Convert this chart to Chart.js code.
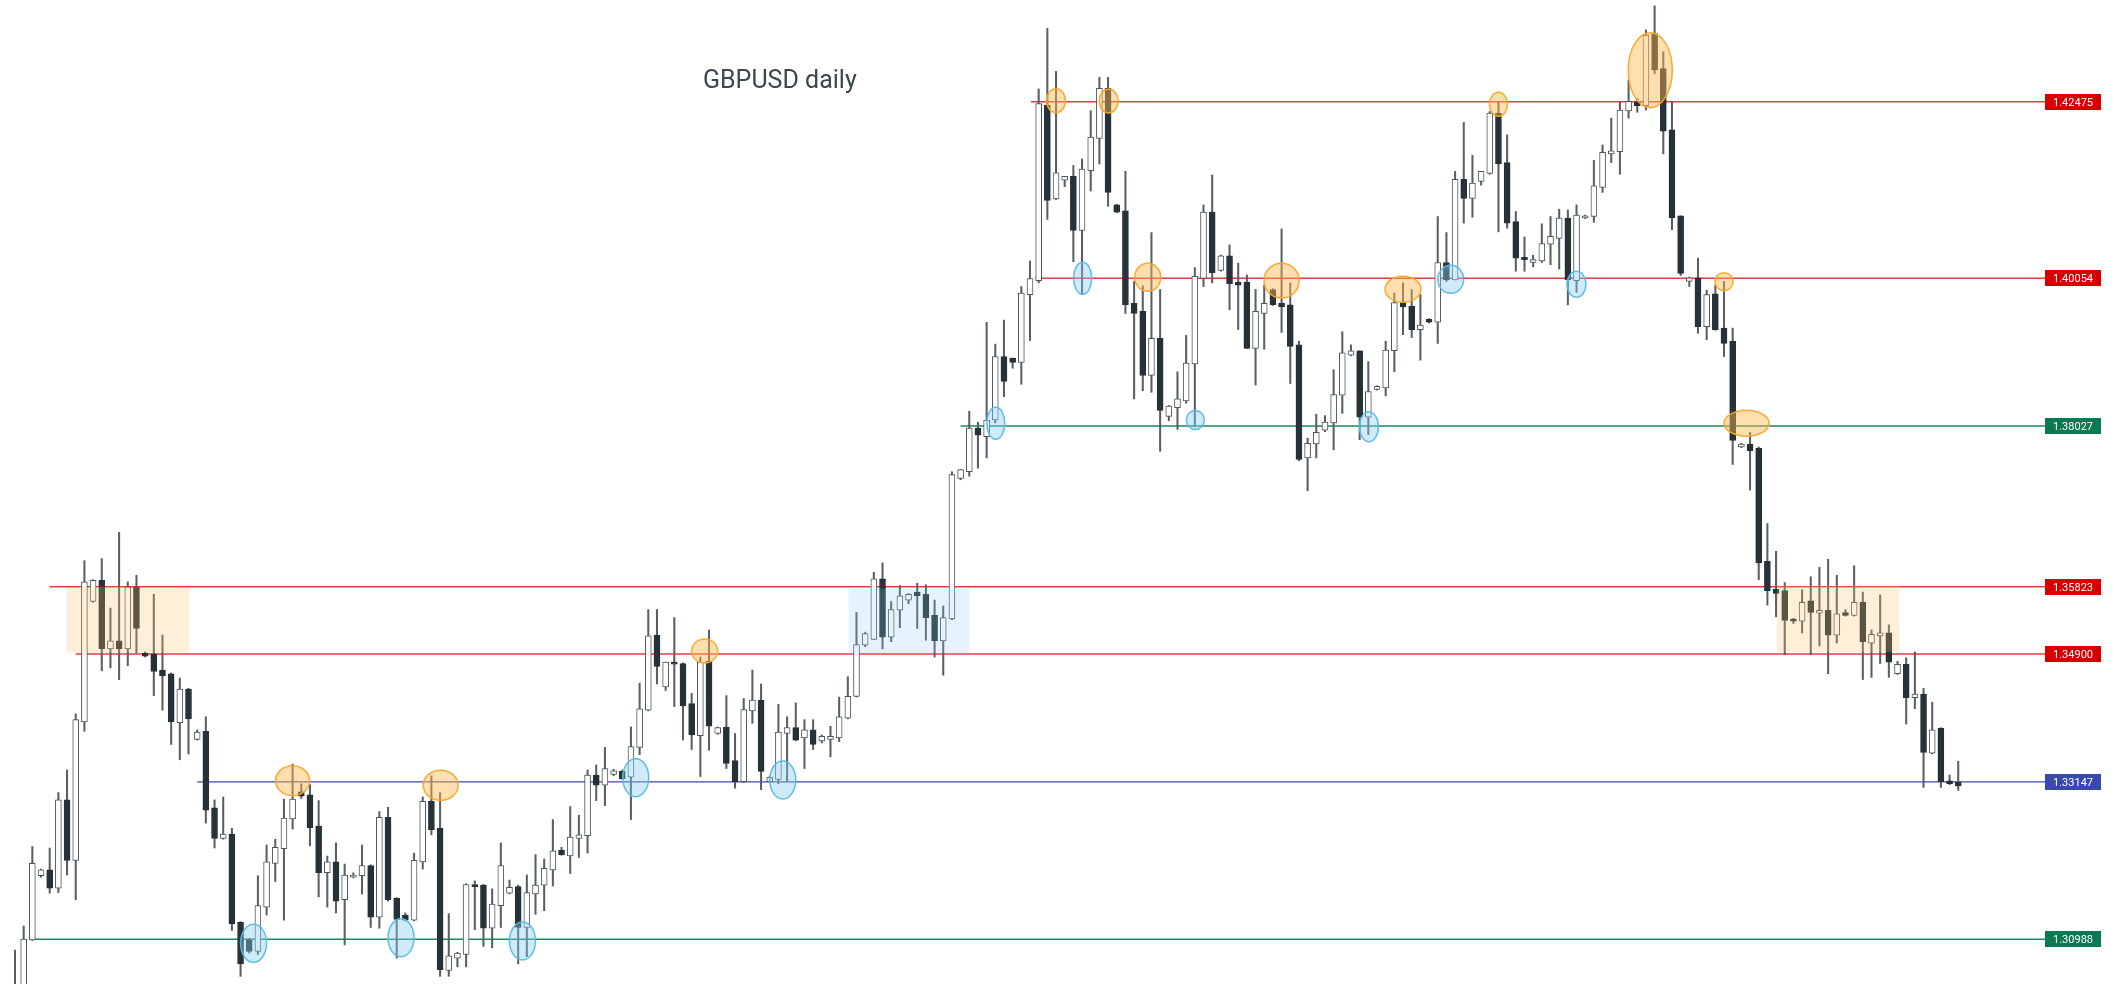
<!DOCTYPE html>
<html>
<head>
<meta charset="utf-8">
<title>GBPUSD daily</title>
<script src="https://cdn.jsdelivr.net/npm/chart.js@4"></script>
<style>
    html, body { margin: 0; padding: 0; background: #ffffff; }
    #wrap { width: 2117px; height: 984px; }
</style>
</head>
<body>
<div id="wrap"><canvas id="chart" width="2117" height="984"></canvas></div>
<script>
// daily candles, oldest first
const opens = [
    1.3010, 1.3020, 1.3098, 1.3186, 1.3194, 1.3169, 1.3290, 1.3207, 1.3397, 1.3562,
    1.3591, 1.3497, 1.3508, 1.3497, 1.3582, 1.3491, 1.3490, 1.3468, 1.3463, 1.3396,
    1.3442, 1.3373, 1.3384, 1.3279, 1.3237, 1.3243, 1.3122, 1.3098, 1.3082, 1.3143,
    1.3203, 1.3223, 1.3264, 1.3301, 1.3297, 1.3254, 1.3190, 1.3205, 1.3153, 1.3184,
    1.3186, 1.3200, 1.3129, 1.3266, 1.3155, 1.3132, 1.3125, 1.3205, 1.3288, 1.3251,
    1.3056, 1.3073, 1.3078, 1.3174, 1.3173, 1.3114, 1.3145, 1.3162, 1.3171, 1.3115,
    1.3161, 1.3173, 1.3194, 1.3221, 1.3213, 1.3237, 1.3241, 1.3324, 1.3310, 1.3325,
    1.3329, 1.3321, 1.3362, 1.3413, 1.3516, 1.3445, 1.3479, 1.3477, 1.3422, 1.3378,
    1.3480, 1.3381, 1.3390, 1.3344, 1.3315, 1.3412, 1.3427, 1.3315, 1.3318, 1.3381,
    1.3389, 1.3375, 1.3386, 1.3371, 1.3373, 1.3375, 1.3402, 1.3432, 1.3502, 1.3510,
    1.3593, 1.3513, 1.3550, 1.3564, 1.3575, 1.3572, 1.3543, 1.3508, 1.3538, 1.3731,
    1.3740, 1.3800, 1.3788, 1.3811, 1.3898, 1.3896, 1.3890, 1.3983, 1.4002, 1.4243,
    1.4114, 1.4140, 1.4145, 1.4071, 1.4153, 1.4197, 1.4266, 1.4106, 1.4098, 1.3971,
    1.3960, 1.3872, 1.3923, 1.3816, 1.3828, 1.3837, 1.3888, 1.4005, 1.4096, 1.4016,
    1.4036, 1.4000, 1.4000, 1.3909, 1.3957, 1.3990, 1.3971, 1.3969, 1.3914, 1.3759,
    1.3778, 1.3797, 1.3807, 1.3845, 1.3900, 1.3906, 1.3815, 1.3853, 1.3855, 1.3906,
    1.3972, 1.3967, 1.3935, 1.3949, 1.3945, 1.4027, 1.4003, 1.4141, 1.4115, 1.4138,
    1.4149, 1.4232, 1.4164, 1.4083, 1.4034, 1.4027, 1.4029, 1.4052, 1.4060, 1.4088,
    1.4002, 1.4088, 1.4090, 1.4130, 1.4176, 1.4179, 1.4235, 1.4247, 1.4242, 1.4341,
    1.4293, 1.4209, 1.4091, 1.4001, 1.4006, 1.3939, 1.3984, 1.3937, 1.3919, 1.3774,
    1.3778, 1.3772, 1.3617, 1.3579, 1.3577, 1.3538, 1.3535, 1.3563, 1.3546, 1.3550,
    1.3516, 1.3547, 1.3543, 1.3561, 1.3505, 1.3515, 1.3519, 1.3463, 1.3476, 1.3430,
    1.3435, 1.3354, 1.3388, 1.3316, 1.3314
];
const highs = [
    1.3084, 1.3117, 1.3226, 1.3195, 1.3224, 1.3300, 1.3331, 1.3408, 1.3618, 1.3592,
    1.3621, 1.3553, 1.3657, 1.3589, 1.3598, 1.3493, 1.3572, 1.3516, 1.3464, 1.3457,
    1.3443, 1.3386, 1.3404, 1.3290, 1.3294, 1.3251, 1.3123, 1.3100, 1.3186, 1.3228,
    1.3236, 1.3291, 1.3339, 1.3312, 1.3311, 1.3289, 1.3213, 1.3231, 1.3202, 1.3190,
    1.3228, 1.3201, 1.3274, 1.3280, 1.3156, 1.3135, 1.3217, 1.3294, 1.3323, 1.3300,
    1.3134, 1.3081, 1.3175, 1.3179, 1.3174, 1.3168, 1.3231, 1.3180, 1.3173, 1.3187,
    1.3215, 1.3209, 1.3263, 1.3225, 1.3281, 1.3269, 1.3331, 1.3338, 1.3362, 1.3332,
    1.3331, 1.3390, 1.3450, 1.3551, 1.3551, 1.3479, 1.3540, 1.3478, 1.3436, 1.3486,
    1.3523, 1.3390, 1.3433, 1.3381, 1.3429, 1.3468, 1.3449, 1.3322, 1.3421, 1.3404,
    1.3423, 1.3400, 1.3400, 1.3379, 1.3391, 1.3431, 1.3459, 1.3547, 1.3520, 1.3602,
    1.3615, 1.3562, 1.3584, 1.3573, 1.3587, 1.3585, 1.3564, 1.3556, 1.3740, 1.3743,
    1.3823, 1.3808, 1.3945, 1.3915, 1.3948, 1.3896, 1.3994, 1.4029, 1.4265, 1.4348,
    1.4289, 1.4145, 1.4160, 1.4169, 1.4235, 1.4281, 1.4281, 1.4107, 1.4152, 1.4001,
    1.3995, 1.4068, 1.3990, 1.3831, 1.3877, 1.3927, 1.4020, 1.4106, 1.4147, 1.4037,
    1.4051, 1.4026, 1.4010, 1.3990, 1.3996, 1.3991, 1.4073, 1.3999, 1.3919, 1.3786,
    1.3819, 1.3817, 1.3880, 1.3932, 1.3914, 1.3906, 1.3891, 1.3858, 1.3919, 1.3985,
    1.3999, 1.3990, 1.3983, 1.3950, 1.4090, 1.4068, 1.4152, 1.4219, 1.4174, 1.4152,
    1.4234, 1.4248, 1.4202, 1.4097, 1.4062, 1.4037, 1.4080, 1.4090, 1.4100, 1.4099,
    1.4106, 1.4092, 1.4167, 1.4188, 1.4225, 1.4248, 1.4277, 1.4252, 1.4346, 1.4379,
    1.4316, 1.4248, 1.4091, 1.4007, 1.4033, 1.3989, 1.3996, 1.4001, 1.3937, 1.3779,
    1.3794, 1.3774, 1.3669, 1.3631, 1.3588, 1.3539, 1.3578, 1.3596, 1.3609, 1.3620,
    1.3598, 1.3551, 1.3611, 1.3575, 1.3523, 1.3571, 1.3530, 1.3480, 1.3485, 1.3493,
    1.3443, 1.3424, 1.3389, 1.3324, 1.3343
];
const lows = [
    1.3000, 1.3010, 1.3097, 1.3184, 1.3162, 1.3163, 1.3187, 1.3153, 1.3384, 1.3561,
    1.3467, 1.3471, 1.3455, 1.3474, 1.3491, 1.3486, 1.3433, 1.3413, 1.3366, 1.3345,
    1.3353, 1.3372, 1.3258, 1.3224, 1.3236, 1.3111, 1.3048, 1.3080, 1.3078, 1.3132,
    1.3178, 1.3125, 1.3250, 1.3292, 1.3227, 1.3157, 1.3143, 1.3135, 1.3091, 1.3183,
    1.3161, 1.3115, 1.3114, 1.3151, 1.3073, 1.3124, 1.3124, 1.3195, 1.3242, 1.3048,
    1.3048, 1.3061, 1.3061, 1.3112, 1.3089, 1.3087, 1.3115, 1.3161, 1.3065, 1.3075,
    1.3133, 1.3138, 1.3172, 1.3214, 1.3189, 1.3211, 1.3217, 1.3289, 1.3282, 1.3323,
    1.3318, 1.3263, 1.3352, 1.3412, 1.3449, 1.3440, 1.3418, 1.3372, 1.3359, 1.3322,
    1.3358, 1.3380, 1.3333, 1.3306, 1.3314, 1.3395, 1.3304, 1.3314, 1.3312, 1.3315,
    1.3371, 1.3333, 1.3359, 1.3368, 1.3349, 1.3370, 1.3401, 1.3431, 1.3500, 1.3510,
    1.3497, 1.3507, 1.3526, 1.3559, 1.3525, 1.3509, 1.3486, 1.3461, 1.3537, 1.3729,
    1.3734, 1.3745, 1.3759, 1.3807, 1.3843, 1.3882, 1.3860, 1.3920, 1.3999, 1.4086,
    1.4113, 1.4131, 1.4028, 1.3983, 1.4125, 1.4162, 1.4104, 1.4095, 1.3957, 1.3840,
    1.3851, 1.3849, 1.3768, 1.3810, 1.3798, 1.3834, 1.3802, 1.3994, 1.3999, 1.4015,
    1.3962, 1.3935, 1.3909, 1.3859, 1.3908, 1.3968, 1.3931, 1.3861, 1.3755, 1.3714,
    1.3759, 1.3795, 1.3770, 1.3820, 1.3899, 1.3784, 1.3791, 1.3852, 1.3844, 1.3877,
    1.3928, 1.3924, 1.3893, 1.3944, 1.3916, 1.4001, 1.4003, 1.4081, 1.4089, 1.4133,
    1.4148, 1.4069, 1.4074, 1.4015, 1.4015, 1.4021, 1.4027, 1.4024, 1.4018, 1.3969,
    1.3986, 1.4087, 1.4082, 1.4123, 1.4164, 1.4148, 1.4225, 1.4233, 1.4236, 1.4286,
    1.4176, 1.4072, 1.4009, 1.3994, 1.3930, 1.3921, 1.3934, 1.3898, 1.3750, 1.3773,
    1.3715, 1.3592, 1.3557, 1.3541, 1.3489, 1.3532, 1.3519, 1.3489, 1.3501, 1.3463,
    1.3505, 1.3542, 1.3542, 1.3455, 1.3458, 1.3477, 1.3458, 1.3462, 1.3394, 1.3415,
    1.3307, 1.3353, 1.3307, 1.3311, 1.3303
];
const closes = [
    1.3030, 1.3099, 1.3203, 1.3194, 1.3169, 1.3290, 1.3207, 1.3400, 1.3589, 1.3591,
    1.3497, 1.3508, 1.3497, 1.3582, 1.3525, 1.3487, 1.3466, 1.3460, 1.3397, 1.3442,
    1.3401, 1.3383, 1.3276, 1.3237, 1.3243, 1.3120, 1.3065, 1.3082, 1.3145, 1.3205,
    1.3225, 1.3265, 1.3291, 1.3295, 1.3252, 1.3190, 1.3205, 1.3151, 1.3187, 1.3187,
    1.3200, 1.3129, 1.3266, 1.3153, 1.3126, 1.3125, 1.3207, 1.3288, 1.3249, 1.3057,
    1.3076, 1.3080, 1.3174, 1.3171, 1.3114, 1.3147, 1.3200, 1.3170, 1.3115, 1.3163,
    1.3173, 1.3196, 1.3220, 1.3215, 1.3239, 1.3242, 1.3324, 1.3310, 1.3333, 1.3330,
    1.3319, 1.3363, 1.3415, 1.3515, 1.3473, 1.3479, 1.3476, 1.3419, 1.3379, 1.3479,
    1.3391, 1.3389, 1.3340, 1.3315, 1.3414, 1.3427, 1.3329, 1.3321, 1.3383, 1.3389,
    1.3372, 1.3386, 1.3366, 1.3377, 1.3377, 1.3404, 1.3432, 1.3503, 1.3518, 1.3593,
    1.3513, 1.3551, 1.3570, 1.3572, 1.3570, 1.3540, 1.3508, 1.3540, 1.3736, 1.3743,
    1.3800, 1.3790, 1.3811, 1.3898, 1.3864, 1.3890, 1.3985, 1.4005, 1.4245, 1.4112,
    1.4150, 1.4145, 1.4071, 1.4155, 1.4199, 1.4266, 1.4123, 1.4096, 1.3969, 1.3957,
    1.3872, 1.3923, 1.3824, 1.3830, 1.3840, 1.3889, 1.4008, 1.4096, 1.4013, 1.4036,
    1.3998, 1.3996, 1.3909, 1.3960, 1.3971, 1.3969, 1.3966, 1.3912, 1.3757, 1.3779,
    1.3794, 1.3808, 1.3846, 1.3903, 1.3906, 1.3815, 1.3850, 1.3857, 1.3907, 1.3972,
    1.3966, 1.3935, 1.3941, 1.3945, 1.4027, 1.4003, 1.4141, 1.4115, 1.4136, 1.4152,
    1.4232, 1.4162, 1.4081, 1.4033, 1.4031, 1.4031, 1.4053, 1.4063, 1.4088, 1.4003,
    1.4092, 1.4091, 1.4132, 1.4178, 1.4180, 1.4236, 1.4248, 1.4242, 1.4339, 1.4291,
    1.4207, 1.4088, 1.4012, 1.4006, 1.3939, 1.3983, 1.3935, 1.3916, 1.3783, 1.3778,
    1.3769, 1.3615, 1.3577, 1.3573, 1.3536, 1.3535, 1.3561, 1.3547, 1.3550, 1.3516,
    1.3545, 1.3543, 1.3561, 1.3507, 1.3517, 1.3519, 1.3479, 1.3476, 1.3430, 1.3435,
    1.3355, 1.3386, 1.3315, 1.3312, 1.3309
];

// horizontal levels: price, first candle index, colour name
const levelPrices = [1.42475, 1.40054, 1.38027, 1.35823, 1.34900, 1.33147, 1.30988];
const levelStarts = [117.1, 117.6, 109.0, 4.0, 7.0, 21.0, 2.1];
const levelKinds = ['red', 'red', 'green', 'red', 'red', 'blue', 'green'];

// shaded zones: candle index range and price range
const zoneFrom = [6.0, 96.1, 203.1];
const zoneTo = [20.1, 110.0, 217.2];
const zoneTop = [1.3582, 1.3580, 1.3584];
const zoneBottom = [1.3492, 1.3491, 1.3493];
const zoneKinds = ['orange', 'blue', 'orange'];

// circled touches: candle index, price, kind
const touchIndex = [32.0, 49.07, 79.5, 120.0, 126.07, 130.57, 146.0, 160.0, 171.0, 188.5, 197.0, 199.6,
    27.5, 44.5, 58.5, 71.55, 88.5, 113.05, 123.07, 136.06, 156.07, 165.5, 180.0];
const touchPrice = [1.33163, 1.33100, 1.34942, 1.42489, 1.42485, 1.40067, 1.40020, 1.39902, 1.42439, 1.42907, 1.40007, 1.38065,
    1.30933, 1.31010, 1.30965, 1.33204, 1.33173, 1.38065, 1.40053, 1.38110, 1.38018, 1.40039, 1.39971];
const touchKinds = ['orange', 'orange', 'orange', 'orange', 'orange', 'orange', 'orange', 'orange', 'orange', 'orange', 'orange', 'orange',
    'blue', 'blue', 'blue', 'blue', 'blue', 'blue', 'blue', 'blue', 'blue', 'blue', 'blue'];
// ellipse radii in px, same order as above
const touchRadius = [[17, 15], [17.5, 15], [13, 12], [9.5, 12], [9.5, 12], [13, 14], [17.5, 17.5], [18, 13], [9, 12], [22, 37.5], [9, 9], [22.5, 13],
    [13, 19], [13, 19], [13, 19], [13, 19], [13, 19], [9, 16], [9, 16], [9, 9.5], [9.5, 15], [13, 14], [9.5, 13]];

const chartTitle = 'GBPUSD daily';

const lineColors = { red: '#e23c3c', green: '#1a8a5c', blue: '#3b4aa8' };
const tagColors = { red: '#d50000', green: '#0b7a50', blue: '#3949ab' };
const LABEL_AT = 234; // index where the price tags start

const bull = closes.map((c, i) => c >= opens[i]);

const bodyData = opens.map((o, i) => ({ x: i, y: [o, closes[i]] }));
const wickData = lows.map((l, i) => ({ x: i, y: [l, highs[i]] }));

const levelSets = levelPrices.map((p, i) => ({
    type: 'line',
    data: [{ x: levelStarts[i], y: p }, { x: LABEL_AT, y: p }],
    borderColor: lineColors[levelKinds[i]],
    borderWidth: 1.4,
    pointRadius: 0,
    order: 3
}));

const overlayPlugin = {
    id: 'overlay',
    afterDatasetsDraw(chart) {
        const { ctx, scales: { x, y } } = chart;
        ctx.save();

        zoneFrom.forEach((f, i) => {
            const x1 = x.getPixelForValue(f);
            const x2 = x.getPixelForValue(zoneTo[i]);
            const y1 = y.getPixelForValue(zoneTop[i]);
            const y2 = y.getPixelForValue(zoneBottom[i]);
            ctx.fillStyle = zoneKinds[i] === 'orange' ? 'rgba(252, 190, 100, 0.25)' : 'rgba(140, 200, 240, 0.22)';
            ctx.fillRect(x1, y1, x2 - x1, y2 - y1);
        });

        touchIndex.forEach((t, i) => {
            const cx = x.getPixelForValue(t);
            const cy = y.getPixelForValue(touchPrice[i]);
            ctx.beginPath();
            ctx.ellipse(cx, cy, touchRadius[i][0], touchRadius[i][1], 0, 0, Math.PI * 2);
            if (touchKinds[i] === 'orange') {
                ctx.fillStyle = 'rgba(255, 183, 80, 0.45)';
                ctx.strokeStyle = 'rgba(246, 166, 40, 0.95)';
            } else {
                ctx.fillStyle = 'rgba(135, 205, 240, 0.4)';
                ctx.strokeStyle = 'rgba(90, 185, 230, 0.95)';
            }
            ctx.lineWidth = 1.5;
            ctx.fill();
            ctx.stroke();
        });

        // price tags
        ctx.font = '11px Roboto';
        ctx.textAlign = 'center';
        ctx.textBaseline = 'middle';
        levelPrices.forEach((p, i) => {
            const lx = x.getPixelForValue(LABEL_AT);
            const ly = Math.round(y.getPixelForValue(p));
            ctx.fillStyle = tagColors[levelKinds[i]];
            ctx.fillRect(lx, ly - 8, 56, 16);
            ctx.fillStyle = '#ffffff';
            ctx.fillText(p.toFixed(5), lx + 28, ly + 1);
        });

        ctx.font = '25px Roboto';
        ctx.textAlign = 'left';
        ctx.textBaseline = 'alphabetic';
        ctx.fillStyle = '#3b464d';
        ctx.fillText(chartTitle, 703, 88);

        ctx.restore();
    }
};

const ctx = document.getElementById('chart').getContext('2d');

const candleChart = new Chart(ctx, {
    type: 'bar',
    data: {
        datasets: [{
            label: 'body',
            data: bodyData,
            grouped: false,
            barThickness: 6,
            minBarLength: 1,
            borderSkipped: false,
            borderWidth: 1,
            backgroundColor: c => bull[c.dataIndex] ? '#ffffff' : '#263238',
            borderColor: c => bull[c.dataIndex] ? '#4d565b' : '#263238',
            order: 1
        }, {
            label: 'wick',
            data: wickData,
            grouped: false,
            barThickness: 1.4,
            backgroundColor: '#586066',
            borderWidth: 0,
            order: 2
        }, ...levelSets]
    },
    options: {
        responsive: false,
        animation: false,
        layout: { padding: 0 },
        plugins: {
            legend: { display: false },
            tooltip: { enabled: false },
            title: { display: false }
        },
        scales: {
            x: {
                type: 'linear',
                display: false,
                offset: false,
                min: -1.729,
                max: 242.30
            },
            y: {
                display: false,
                min: 1.303749,
                max: 1.438697
            }
        }
    },
    plugins: [overlayPlugin]
});
</script>
</body>
</html>
